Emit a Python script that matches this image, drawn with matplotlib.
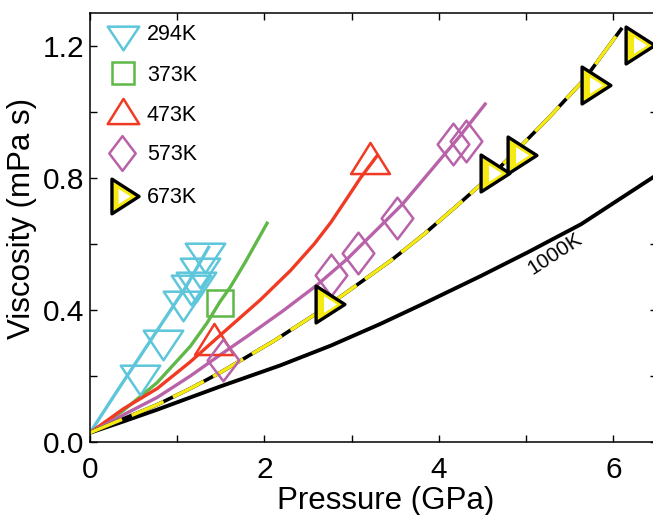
import numpy as np
import matplotlib
matplotlib.use("Agg")
import matplotlib.pyplot as plt
from matplotlib.path import Path
from matplotlib.ticker import FixedLocator, FuncFormatter

plt.rcParams['font.family'] = ['Liberation Sans', 'DejaVu Sans']

# ---------------- data ----------------
labels = ['294K', '373K', '473K', '573K', '673K']

# markers (experimental points)
p294 = [0.569, 0.833, 1.063, 1.159, 1.213, 1.264, 1.322]
v294 = [0.189, 0.293, 0.411, 0.461, 0.471, 0.512, 0.557]
p373 = [1.49]
v373 = [0.42]
p473 = [1.42, 3.21]
v473 = [0.311, 0.861]
p573 = [1.52, 2.76, 3.07, 3.52, 4.157, 4.31]
v573 = [0.25, 0.505, 0.574, 0.68, 0.902, 0.912]
p673 = [2.75, 4.64, 4.95, 5.80, 6.30]
v673 = [0.419, 0.816, 0.87, 1.082, 1.202]

# model curves
c294_x = [0, 0.3, 0.6, 0.9, 1.1, 1.36]
c294_y = [0.028, 0.15, 0.27, 0.39, 0.47, 0.59]
c373_x = [0, 0.38, 0.77, 1.15, 1.34, 1.49, 1.61, 1.78, 2.03]
c373_y = [0.028, 0.095, 0.18, 0.29, 0.36, 0.425, 0.47, 0.545, 0.663]
c473_x = [0, 0.38, 0.77, 1.15, 1.49, 1.95, 2.30, 2.57, 2.76, 2.95, 3.10, 3.29]
c473_y = [0.028, 0.10, 0.162, 0.243, 0.323, 0.43, 0.52, 0.60, 0.665, 0.74, 0.80, 0.867]
c573_x = [0, 0.38, 0.77, 1.15, 1.46, 1.8, 2.2, 2.6, 2.95, 3.58, 4.25, 4.53]
c573_y = [0.028, 0.082, 0.135, 0.20, 0.258, 0.32, 0.395, 0.475, 0.555, 0.72, 0.93, 1.024]
c673_x = [0, 0.38, 0.77, 1.15, 1.49, 2.1, 2.6, 2.95, 3.45, 3.83, 4.18, 4.67, 5.25, 5.67, 6.1]
c673_y = [0.028, 0.07, 0.113, 0.162, 0.21, 0.305, 0.39, 0.455, 0.55, 0.63, 0.71, 0.825, 0.98, 1.10, 1.255]
c1000_x = [0, 0.38, 0.77, 1.15, 1.49, 2.18, 2.76, 3.33, 3.83, 4.48, 5.02, 5.63, 6.5]
c1000_y = [0.028, 0.062, 0.098, 0.135, 0.168, 0.232, 0.292, 0.358, 0.42, 0.503, 0.575, 0.66, 0.81]

xticks = [0, 1, 2, 3, 4, 5, 6]
xticklabels = {0: '0', 2: '2', 4: '4', 6: '6'}
yticks = [0, 0.2, 0.4, 0.6, 0.8, 1.0, 1.2]
ytick_shown = [0.0, 0.4, 0.8, 1.2]

# ---------------- styles ----------------
CYAN = '#5DC6DB'
GREEN = '#5FB847'
RED = '#F03A24'
MAG = '#B862A9'
YEL = '#F5EA12'

tri_down = Path([(-1, 0.75), (1, 0.75), (0, -0.75), (-1, 0.75)],
                [Path.MOVETO, Path.LINETO, Path.LINETO, Path.CLOSEPOLY])
tri_up = Path([(-1, -0.8), (1, -0.8), (0, 0.8), (-1, -0.8)],
              [Path.MOVETO, Path.LINETO, Path.LINETO, Path.CLOSEPOLY])
diamond = Path([(0, 1), (0.76, 0), (0, -1), (-0.76, 0), (0, 1)],
               [Path.MOVETO, Path.LINETO, Path.LINETO, Path.LINETO, Path.CLOSEPOLY])
tri_right = Path([(-0.78, 1), (0.78, 0), (-0.78, -1), (-0.78, 1)],
                 [Path.MOVETO, Path.LINETO, Path.LINETO, Path.CLOSEPOLY])

fig = plt.figure(figsize=(6.53, 5.15), dpi=100)
ax = fig.add_axes([90/653, 73/515, 567/653, 429/515])

lw = 2.4
ax.plot(c1000_x, c1000_y, color='black', lw=2.8, solid_capstyle='butt', zorder=2)
ax.plot(c294_x, c294_y, color=CYAN, lw=lw, zorder=2)
ax.plot(c373_x, c373_y, color=GREEN, lw=lw, zorder=2)
ax.plot(c473_x, c473_y, color=RED, lw=lw, zorder=2)
ax.plot(c573_x, c573_y, color=MAG, lw=lw, zorder=2)
ax.plot(c673_x, c673_y, color='black', lw=2.6, zorder=2, solid_capstyle='butt')
ax.plot(c673_x, c673_y, color=YEL, lw=2.5, zorder=2.1, dashes=(10.0, 3.0), dash_capstyle='butt')

mk = dict(linestyle='none', markerfacecolor='none', mew=1.8, zorder=3, clip_on=False)
ax.plot(p294, v294, marker=tri_down, ms=28.4, color=CYAN, **mk)
ax.plot(p373, v373, marker='s', ms=19.4, color=GREEN, **mk)
ax.plot(p473, v473, marker=tri_up, ms=28.0, color=RED, **mk)
ax.plot(p573, v573, marker=diamond, ms=30.0, color=MAG, **mk)
ax.plot(p673, v673, marker=tri_right, ms=26.6, linestyle='none', markerfacecolor=YEL,
        markeredgecolor='black', mew=2.4, zorder=4, clip_on=False)
ax.plot(p673, v673, marker=tri_right, ms=12, linestyle='none', markerfacecolor='white',
        markeredgecolor='none', zorder=4.1, clip_on=False)

ax.text(5.33, 0.571, '1000K', fontsize=15, rotation=33, ha='center', va='center')

# legend drawn manually (axes fraction)
lx, tx = 0.058, 0.1005
rows = [0.949, 0.855, 0.762, 0.669, 0.571]
tr = ax.transAxes
lmk = dict(linestyle='none', markerfacecolor='none', mew=1.8, transform=tr, clip_on=False, zorder=5)
ax.plot([lx], [rows[0] - 0.008], marker=tri_down, ms=22.7, color=CYAN, **lmk)
ax.plot([lx], [rows[1] + 0.004], marker='s', ms=15.8, color=GREEN, **lmk)
ax.plot([lx], [rows[2] + 0.01], marker=tri_up, ms=22.7, color=RED, **lmk)
ax.plot([lx - 0.001], [rows[3] + 0.004], marker=diamond, ms=25, color=MAG, **lmk)
ax.plot([lx + 0.004], [rows[4] + 0.002], marker=tri_right, ms=25, linestyle='none',
        markerfacecolor=YEL, markeredgecolor='black', mew=2.4, transform=tr, clip_on=False, zorder=5)
ax.plot([lx + 0.002], [rows[4] + 0.002], marker=tri_right, ms=11, linestyle='none',
        markerfacecolor='white', markeredgecolor='none', transform=tr, clip_on=False, zorder=5.1)
for r, lab in zip(rows, labels):
    ax.text(tx, r, lab, fontsize=15.5, ha='left', va='center', transform=tr)

ax.set_xlim(0, 6.5)
ax.set_ylim(0, 1.3)
ax.xaxis.set_major_locator(FixedLocator(xticks))
ax.xaxis.set_major_formatter(FuncFormatter(lambda v, p: xticklabels.get(int(round(v)), '')))
ax.yaxis.set_major_locator(FixedLocator(yticks))
ax.yaxis.set_major_formatter(FuncFormatter(
    lambda v, p: ('%.1f' % v) if any(abs(v - s) < 1e-6 for s in ytick_shown) else ''))
ax.tick_params(direction='in', length=5, width=1.0, top=True, right=True,
               labelsize=21.5, pad=6)
ax.tick_params(axis='x', pad=10)
ax.tick_params(axis='y', pad=4)
for s in ax.spines.values():
    s.set_linewidth(1.1)

ax.set_xlabel('Pressure (GPa)', fontsize=22.5)
ax.set_ylabel('Viscosity (mPa s)', fontsize=22.5)
ax.xaxis.set_label_coords(0.522, -0.103)
ax.yaxis.set_label_coords(-0.093, 0.522)

fig.savefig('out.png', dpi=100)
